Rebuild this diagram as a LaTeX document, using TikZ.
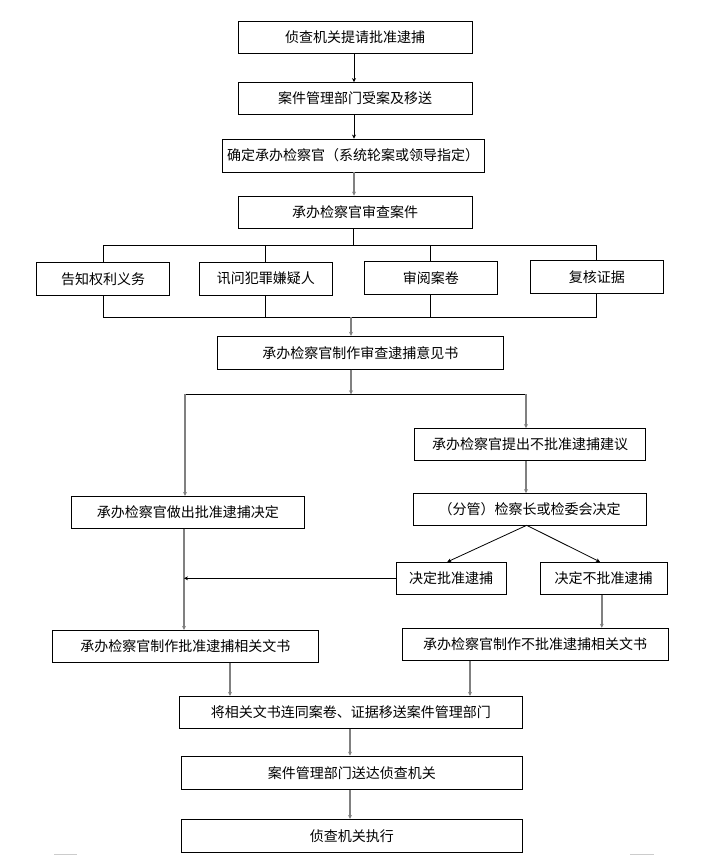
\documentclass[tikz,border=0pt]{standalone}
\usepackage{fontspec}
\newfontfamily\cjk{Noto Sans CJK SC}
\usepackage{tikz}
\usetikzlibrary{calc,arrows.meta}
\definecolor{linegray}{RGB}{128,128,128}

\begin{document}
\begin{tikzpicture}[x = 1pt, y = -1pt,
    box/.style = {draw, line width = 0.8pt, inner sep = 0pt, minimum height = 32, font = \cjk\fontsize{14}{16}\selectfont},
    thinarrow/.style = {draw, line width = 0.8pt, -{Stealth[length=4pt,width=4pt]}},
    grayarrow/.style = {draw, line width = 1.6pt, linegray, -{Stealth[length=4pt,width=4pt]}}]
    \useasboundingbox(0,0)rectangle(705,855);
    % top chain
    \node[box, minimum width = 234](tiqing)at(355,37.5){侦查机关提请批准逮捕};
    \node[box, minimum width = 234](shouan)at(355,98.5){案件管理部门受案及移送};
    \node[box, minimum width = 262, minimum height = 33](queding)at(353,155.5){确定承办检察官（系统轮案或领导指定）};
    \node[box, minimum width = 234](shencha)at(355,212){承办检察官审查案件};
    \coordinate(xT)at(354,0);
    \path[thinarrow](tiqing.south-|xT)to(shouan.north-|xT);
    \path[thinarrow](shouan.south-|xT)to(queding.north-|xT);
    \path[grayarrow](queding.south-|xT)to(shencha.north-|xT);
    % four tasks
    \node[box, minimum width = 133, minimum height = 33](gaozhi)at(103,278.8){告知权利义务};
    \node[box, minimum width = 133, minimum height = 33](xunwen)at(265.8,278.5){讯问犯罪嫌疑人};
    \node[box, minimum width = 133, minimum height = 33](shenyue)at(430.8,277.7){审阅案卷};
    \node[box, minimum width = 133, minimum height = 33](fuhe)at(596.8,276.8){复核证据};
    % bus above
    \coordinate(busA)at(353,245.3);
    \path[draw, line width = 0.8pt](shencha.south-|busA)to(busA);
    \path[draw, line width = 0.8pt](gaozhi.north)|-(busA);
    \path[draw, line width = 0.8pt](fuhe.north)|-(busA);
    \path[draw, line width = 0.8pt](xunwen.north)to(xunwen.north|-busA);
    \path[draw, line width = 0.8pt](shenyue.north)to(shenyue.north|-busA);
    % bus below
    \coordinate(busB)at(351,317.3);
    \path[draw, line width = 0.8pt](gaozhi.south)|-(busB);
    \path[draw, line width = 0.8pt](fuhe.south)|-(busB);
    \path[draw, line width = 0.8pt](xunwen.south)to(xunwen.south|-busB);
    \path[draw, line width = 0.8pt](shenyue.south)to(shenyue.south|-busB);
    % opinion
    \node[box, minimum width = 286, minimum height = 33](yijian)at(360.3,352.7){承办检察官制作审查逮捕意见书};
    \path[grayarrow](busB)to(busB|-yijian.north);
    % split
    \coordinate(split)at(351,394.3);
    \coordinate(splitL)at(185,394.3);
    \coordinate(splitR)at(526,394.3);
    \path[grayarrow](split|-yijian.south)to(split);
    \path[draw, line width = 0.8pt](splitL)to(splitR);
    % right branch
    \node[box, minimum width = 231.4](tichu)at(530,444.5){承办检察官提出不批准逮捕建议};
    \node[box, minimum width = 232.7](fenguan)at(529.7,509.5){（分管）检察长或检委会决定};
    \node[box, minimum width = 109.7](pizhun)at(451.2,578.3){决定批准逮捕};
    \node[box, minimum width = 127.3](bupizhun)at(603.7,578.3){决定不批准逮捕};
    \path[grayarrow](splitR)to(splitR|-tichu.north);
    \path[grayarrow](tichu.south-|splitR)to(fenguan.north-|splitR);
    \coordinate(fork)at(526.7,525.3);
    \coordinate(xA)at(447.3,0);
    \coordinate(xB)at(600,0);
    \path[thinarrow](fork)to(pizhun.north-|xA);
    \path[thinarrow](fork)to(bupizhun.north-|xB);
    % left branch
    \node[box, minimum width = 233](zuochu)at(187.8,512.3){承办检察官做出批准逮捕决定};
    \path[grayarrow](splitL)to(splitL|-zuochu.north);
    \node[box, minimum width = 265.8](wenshu)at(185.4,646.3){承办检察官制作批准逮捕相关文书};
    \node[box, minimum width = 266.3](buwenshu)at(535.2,644.2){承办检察官制作不批准逮捕相关文书};
    \coordinate(joinL)at(184,578.3);
    \path[grayarrow](zuochu.south-|joinL)to(wenshu.north-|joinL);
    \path[thinarrow](pizhun.west)to(joinL);
    \coordinate(xC)at(601.8,0);
    \path[grayarrow](bupizhun.south-|xC)to(buwenshu.north-|xC);
    % bottom chain
    \node[box, minimum width = 342.9](yisong)at(350.8,712.2){将相关文书连同案卷、证据移送案件管理部门};
    \node[box, minimum width = 340.6, minimum height = 33.3](songda)at(351.9,772.7){案件管理部门送达侦查机关};
    \node[box, minimum width = 340.6, minimum height = 33.4](zhixing)at(351.9,836){侦查机关执行};
    \coordinate(xD)at(230,0);
    \coordinate(xE)at(470,0);
    \coordinate(xF)at(350,0);
    \path[grayarrow](wenshu.south-|xD)to(yisong.north-|xD);
    \path[grayarrow](buwenshu.south-|xE)to(yisong.north-|xE);
    \path[grayarrow](yisong.south-|xF)to(songda.north-|xF);
    \path[grayarrow](songda.south-|xF)to(zhixing.north-|xF);
    % page marks
    \path[draw, gray!40, line width = 1.2pt](54,854.3)to(77,854.3);
    \path[draw, gray!40, line width = 1.2pt](630,854.3)to(654,854.3);
\end{tikzpicture}
\end{document}
